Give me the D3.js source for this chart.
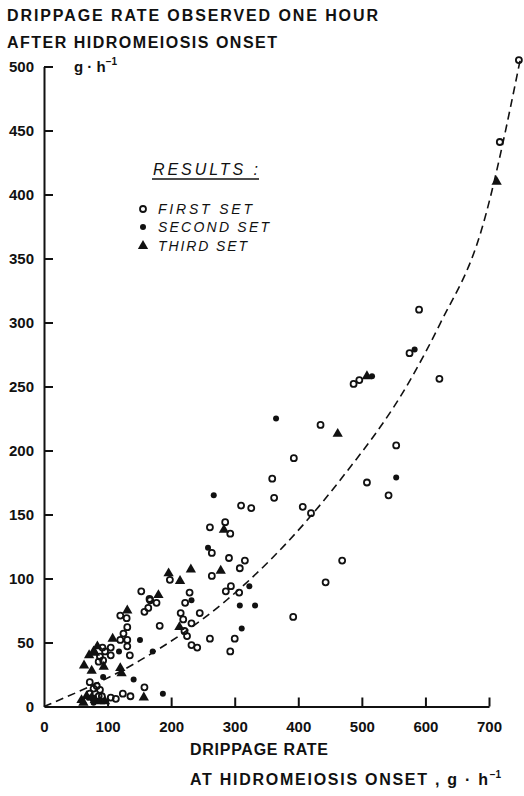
<!DOCTYPE html>
<html>
<head>
<meta charset="utf-8">
<script src="https://cdn.jsdelivr.net/npm/d3@7"></script>
<style>
  body { margin: 0; background: #fff; }
  svg text { font-family: "Liberation Sans", Arial, sans-serif; fill: #111; }
</style>
</head>
<body>
<script>
// values, g.h-1 : [onset rate, rate one hour later]
const firstSet = [
  [747,505],[717,441],[590,310],[575,276],[622,256],[487,252],[496,255],[435,220],
  [393,194],[554,204],[508,175],[542,165],[407,156],[420,151],[469,114],[443,97],
  [392,70],[359,178],[362,163],[310,157],[326,155],[285,144],[293,135],[261,140],
  [264,120],[291,116],[316,114],[308,108],[264,102],[198,99],[294,94],[286,90],
  [307,89],[229,89],[153,90],[166,84],[222,81],[167,83],[177,81],[164,77],[158,74],
  [215,73],[219,68],[245,73],[232,65],[221,59],[225,55],[182,63],[232,48],[241,46],
  [300,53],[293,43],[261,53],[158,15],[120,71],[130,69],[131,62],[125,57],[120,52],
  [131,52],[131,47],[135,40],[105,46],[92,46],[96,43],[105,40],[93,36],[88,39],
  [86,35],[72,19],[78,14],[83,16],[88,13],[91,8],[105,7],[113,6],[124,10],[136,8],
  [72,10],[78,6],[86,8]
];
const secondSet = [
  [365,225],[267,165],[258,124],[554,179],[583,279],[516,258],[323,94],[308,79],
  [332,79],[311,61],[232,83],[151,52],[171,43],[118,43],[93,23],[141,21],[187,10],
  [70,7],[78,3]
];
const thirdSet = [
  [712,410],[508,258],[462,213],[283,138],[231,107],[278,106],[196,104],[214,98],
  [180,87],[213,62],[131,75],[108,53],[84,47],[78,43],[71,40],[80,42],[63,32],
  [75,28],[94,31],[120,30],[122,26],[157,7],[59,5],[67,8],[75,7],[80,5],[62,3],
  [88,4],[96,4]
];
// dashed trend curve
const trend = [[0,0],[151,36],[287,83],[355,114],[466,177],[576,255],[623,299],[688,372],[749,505]];

const xTicks = [0,100,200,300,400,500,600,700];
const yTicks = [0,50,100,150,200,250,300,350,400,450,500];
const legendItems = ['FIRST SET','SECOND SET','THIRD SET'];

const width = 524, height = 796;

const svg = d3.select('body').append('svg')
  .attr('width', width)
  .attr('height', height);

svg.append('rect').attr('width', width).attr('height', height).attr('fill', '#fff');

const x = d3.scaleLinear().domain([0, 700]).range([44, 489]);
const y = d3.scaleLinear().domain([0, 500]).range([706.5, 66.5]);

// axes, ticks pointing inward like the original
const xAxis = d3.axisBottom(x).tickValues(xTicks).tickSize(-9).tickSizeOuter(0).tickPadding(15);
const yAxis = d3.axisLeft(y).tickValues(yTicks).tickSize(-9).tickSizeOuter(0).tickPadding(10);

const gx = svg.append('g')
  .attr('transform', `translate(0, ${y(0)})`)
  .call(xAxis);
const gy = svg.append('g')
  .attr('transform', `translate(${x(0)}, 0)`)
  .call(yAxis);

[gx, gy].forEach(g => {
  g.select('.domain').attr('stroke', '#111').attr('stroke-width', 2);
  g.selectAll('.tick line').attr('stroke', '#111').attr('stroke-width', 2);
  g.selectAll('.tick text')
    .attr('font-size', 15)
    .attr('font-weight', 'bold')
    .attr('fill', '#111')
    .style('font-family', '"Liberation Sans", Arial, sans-serif');
});
gx.selectAll('.tick').filter(d => d === 0).select('line').remove();
gy.selectAll('.tick').filter(d => d === 0).select('line').remove();

// trend line
const line = d3.line()
  .x(d => x(d[0]))
  .y(d => y(d[1]))
  .curve(d3.curveMonotoneX);

svg.append('path')
  .datum(trend)
  .attr('d', line)
  .attr('fill', 'none')
  .attr('stroke', '#111')
  .attr('stroke-width', 1.6)
  .attr('stroke-dasharray', '8,5');

// points
svg.append('g').selectAll('circle')
  .data(firstSet)
  .enter()
  .append('circle')
  .attr('cx', d => x(d[0]))
  .attr('cy', d => y(d[1]))
  .attr('r', 3)
  .attr('fill', 'none')
  .attr('stroke', '#111')
  .attr('stroke-width', 1.8);

svg.append('g').selectAll('circle')
  .data(secondSet)
  .enter()
  .append('circle')
  .attr('cx', d => x(d[0]))
  .attr('cy', d => y(d[1]))
  .attr('r', 3)
  .attr('fill', '#111');

const tri = d3.symbol().type(d3.symbolTriangle).size(46);
svg.append('g').selectAll('path')
  .data(thirdSet)
  .enter()
  .append('path')
  .attr('d', tri)
  .attr('transform', d => `translate(${x(d[0])}, ${y(d[1])})`)
  .attr('fill', '#111');

// titles
const title = svg.append('g').attr('font-size', 16).attr('font-weight', 'bold');
title.append('text').attr('x', 7).attr('y', 21)
  .attr('textLength', 371).attr('lengthAdjust', 'spacing')
  .text('DRIPPAGE RATE OBSERVED ONE HOUR');
title.append('text').attr('x', 7).attr('y', 48)
  .attr('textLength', 270).attr('lengthAdjust', 'spacing')
  .text('AFTER HIDROMEIOSIS ONSET');

const unit = svg.append('text').attr('x', 74).attr('y', 72)
  .attr('font-size', 15).attr('font-weight', 'bold');
unit.append('tspan').text('g · h');
unit.append('tspan').attr('font-size', 10).attr('dy', -7).text('−1');

const xt = svg.append('g').attr('font-size', 16).attr('font-weight', 'bold');
xt.append('text').attr('x', 190).attr('y', 755)
  .attr('textLength', 138).attr('lengthAdjust', 'spacing')
  .text('DRIPPAGE RATE');
const xt2 = xt.append('text').attr('x', 190).attr('y', 785);
xt2.append('tspan').attr('textLength', 298).attr('lengthAdjust', 'spacing')
  .text('AT HIDROMEIOSIS ONSET , g · h');
xt2.append('tspan').attr('font-size', 10).attr('dy', -7).text('−1');

// legend
const lg = svg.append('g');
lg.append('text').attr('x', 153).attr('y', 175)
  .attr('font-size', 16).attr('font-style', 'italic')
  .attr('textLength', 105).attr('lengthAdjust', 'spacing')
  .text('RESULTS :');
lg.append('line').attr('x1', 152).attr('x2', 259).attr('y1', 179).attr('y2', 179)
  .attr('stroke', '#111').attr('stroke-width', 1.3);

const legendY = [209, 227, 246];
const legendW = [94, 111, 89];
legendItems.forEach((name, i) => {
  lg.append('text').attr('x', 158).attr('y', legendY[i] + 5)
    .attr('font-size', 14).attr('font-style', 'italic')
    .attr('textLength', legendW[i]).attr('lengthAdjust', 'spacing')
    .text(name);
});
lg.append('circle').attr('cx', 143).attr('cy', legendY[0]).attr('r', 3)
  .attr('fill', 'none').attr('stroke', '#111').attr('stroke-width', 1.8);
lg.append('circle').attr('cx', 143).attr('cy', legendY[1]).attr('r', 3).attr('fill', '#111');
lg.append('path').attr('d', tri).attr('transform', `translate(143, ${legendY[2]})`).attr('fill', '#111');
</script>
</body>
</html>
